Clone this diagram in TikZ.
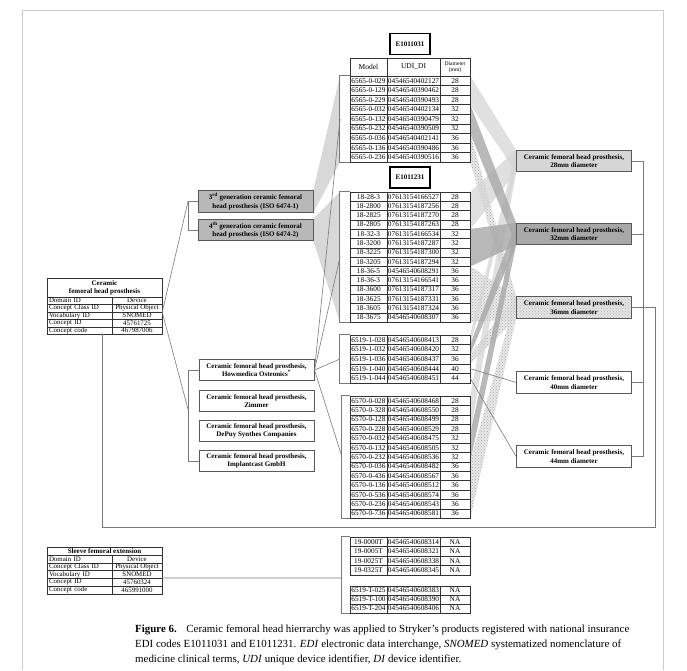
\documentclass[tikz,border=0pt]{standalone}
\usepackage{fontspec}
\setmainfont{Liberation Serif}
\usetikzlibrary{patterns,backgrounds}

\definecolor{framegray}{gray}{0.80}
\definecolor{wiregray}{gray}{0.48}
\definecolor{isofill}{gray}{0.72}
\definecolor{fillA}{gray}{0.84}
\definecolor{fillB}{gray}{0.66}

\newcommand\tabfont{\fontsize{7.3}{7.3}\selectfont}
\newcommand\hdfont{\fontsize{7.5}{8}\selectfont}
\newcommand\boxfont{\fontsize{7}{8.2}\selectfont\bfseries}
\newcommand\keyfont{\fontsize{6.9}{7}\selectfont}

% product table: prefix, top edge, row height, rows model/udi/diameter
\newcommand\prodtable[4]{%
  \foreach \cM/\cU/\cD [count=\i] in {#4} {%
    \pgfmathsetmacro\yc{#2+(\i-0.5)*#3}%
    \node[pcell, minimum width=37pt, minimum height=#3pt] (#1-\i-m) at (368.5,\yc) {\cM};%
    \node[pcell, minimum width=53pt, minimum height=#3pt] (#1-\i-u) at (413.5,\yc) {\cU};%
    \node[pcell, minimum width=30pt, minimum height=#3pt] (#1-\i-d) at (455,\yc) {\cD};%
  }%
}
% concept table: prefix, top edge, row height, rows key/value
\newcommand\concepttable[4]{%
  \foreach \cK/\cV [count=\i] in {#4} {%
    \pgfmathsetmacro\yc{#2+(\i-0.5)*#3}%
    \node[kkey, minimum height=#3pt] (#1-\i-k) at (79.5,\yc) {\cK};%
    \node[kval, minimum height=#3pt] (#1-\i-v) at (137,\yc) {\cV};%
  }%
}
% band from a group of table rows to a diameter box
\newcommand\band[5]{\fill[#1] (#2) -- (#4) -- (#5) -- (#3) -- cycle;}

\begin{document}
\begin{tikzpicture}[x=1pt,y=-1pt,
  pcell/.style={draw=black!80, line width=0.45pt, fill=white, inner sep=0pt, font=\tabfont},
  kkey/.style={draw=black!80, line width=0.45pt, fill=white, inner ysep=0pt, inner xsep=2pt,
               text width=61pt, align=left, font=\keyfont},
  kval/.style={draw=black!80, line width=0.45pt, fill=white, inner sep=0pt,
               minimum width=50pt, font=\keyfont},
  ebox/.style={draw=black, line width=1.3pt, fill=white, minimum width=40pt, minimum height=21pt,
               inner sep=0pt, font=\fontsize{7}{8}\selectfont\bfseries},
  catbox/.style={draw=black!65, line width=0.8pt, minimum width=115pt, minimum height=21.5pt,
               inner sep=0pt, align=center, font=\boxfont},
  wire/.style={draw=wiregray, line width=0.6pt},
  band28/.style={fill=fillA, opacity=0.75},
  band32/.style={fill=fillB, opacity=0.8},
  band36/.style={preaction={fill=gray!22, opacity=0.8}, pattern=crosshatch dots, pattern color=gray!65},
  capfont/.style={font=\fontsize{10.9}{12}\selectfont, inner sep=0pt, anchor=base west}
]
\useasboundingbox (0,0) rectangle (687,670);
\begin{pgfonlayer}{background}
\fill[white] (0,0) rectangle (687,670);
\end{pgfonlayer}
\draw[framegray, line width=0.8pt] (22,670) -- (22,10) -- (663,10) -- (663,670);

% ---------- EDI code boxes ----------
\node[ebox] (e1) at (410,44) {E1011031};
\node[ebox] (e2) at (410,177.5) {E1011231};

% ---------- product tables ----------
\node[pcell, minimum width=37pt, minimum height=18pt, font=\hdfont] (t1-h-m) at (368.5,67) {Model};
\node[pcell, minimum width=53pt, minimum height=18pt, font=\hdfont] (t1-h-u) at (413.5,67) {UDI\_DI};
\node[pcell, minimum width=30pt, minimum height=18pt, font=\fontsize{5.6}{6.3}\selectfont, align=center] (t1-h-d) at (455,67) {Diameter\\(mm)};

\prodtable{t1}{76}{9.55}{6565-0-029/04546540402127/28, 6565-0-129/04546540390462/28,
  6565-0-229/04546540390493/28, 6565-0-032/04546540402134/32, 6565-0-132/04546540390479/32,
  6565-0-232/04546540390509/32, 6565-0-036/04546540402141/36, 6565-0-136/04546540390486/36,
  6565-0-236/04546540390516/36}

\prodtable{t2}{192}{9.29}{18-28-3/07613154166527/28, 18-2800/07613154187256/28,
  18-2825/07613154187270/28, 18-2805/07613154187263/28, 18-32-3/07613154166534/32,
  18-3200/07613154187287/32, 18-3225/07613154187300/32, 18-3205/07613154187294/32,
  18-36-5/04546540608291/36, 18-36-3/07613154166541/36, 18-3600/07613154187317/36,
  18-3625/07613154187331/36, 18-3605/07613154187324/36, 18-3675/04546540608307/36}

\prodtable{t3}{335}{9.6}{6519-1-028/04546540608413/28, 6519-1-032/04546540608420/32,
  6519-1-036/04546540608437/36, 6519-1-040/04546540608444/40, 6519-1-044/04546540608451/44}

\prodtable{t4}{396}{9.4}{6570-0-028/04546540608468/28, 6570-0-328/04546540608550/28,
  6570-0-128/04546540608499/28, 6570-0-228/04546540608529/28, 6570-0-032/04546540608475/32,
  6570-0-132/04546540608505/32, 6570-0-232/04546540608536/32, 6570-0-036/04546540608482/36,
  6570-0-436/04546540608567/36, 6570-0-136/04546540608512/36, 6570-0-536/04546540608574/36,
  6570-0-236/04546540608543/36, 6570-0-736/04546540608581/36}

\prodtable{t5}{537}{9.5}{19-0000T/04546540608314/NA, 19-0005T/04546540608321/NA,
  19-0025T/04546540608338/NA, 19-0325T/04546540608345/NA}

\prodtable{t6}{586}{9.0}{6519-T-025/04546540608383/NA, 6519-T-100/04546540608390/NA,
  6519-T-204/04546540608406/NA}

% brackets on the left of the product tables
\draw[wire] (t1-1-m.north west) -- ++(-10,0) |- (t1-9-m.south west);
\draw[wire] (t2-1-m.north west) -- ++(-10,0) |- (t2-14-m.south west);
\draw[wire] (t3-1-m.north west) -- ++(-10,0) |- (t3-5-m.south west);
\draw[wire] (t4-1-m.north west) -- ++(-8,0) |- (t4-13-m.south west);
\draw[wire] (t5-1-m.north west) -- ++(-8,0) |- (t6-3-m.south west);
\coordinate (b1) at (340,119);
\coordinate (b2) at (340,257);
\coordinate (b3) at (340,359);
\coordinate (b4) at (342,457);
\coordinate (b5) at (342,578);

% ---------- diameter boxes ----------
\node[catbox, fill=fillA] (d28) at (574,161) {Ceramic femoral head prosthesis,\\28mm diameter};
\node[catbox, fill=fillB] (d32) at (574,234) {Ceramic femoral head prosthesis,\\32mm diameter};
\node[catbox, preaction={fill=gray!22}, pattern=crosshatch dots, pattern color=gray!55] (d36) at (574,307.5) {Ceramic femoral head prosthesis,\\36mm diameter};
\node[catbox, fill=white] (d40) at (574,382.5) {Ceramic femoral head prosthesis,\\40mm diameter};
\node[catbox, fill=white] (d44) at (574,456.5) {Ceramic femoral head prosthesis,\\44mm diameter};

% bands from table rows to the diameter boxes
\begin{pgfonlayer}{background}
\band{band36}{t1-7-d.north east}{t1-9-d.south east}{d36.north west}{d36.south west}
\band{band36}{t2-9-d.north east}{t2-14-d.south east}{d36.north west}{d36.south west}
\band{band36}{t3-3-d.north east}{t3-3-d.south east}{d36.north west}{d36.south west}
\band{band36}{t4-8-d.north east}{t4-13-d.south east}{d36.north west}{d36.south west}
\band{band28}{t1-1-d.north east}{t1-3-d.south east}{d28.north west}{d28.south west}
\band{band28}{t2-1-d.north east}{t2-4-d.south east}{d28.north west}{d28.south west}
\band{band28}{t3-1-d.north east}{t3-1-d.south east}{d28.north west}{d28.south west}
\band{band28}{t4-1-d.north east}{t4-4-d.south east}{d28.north west}{d28.south west}
\band{band32}{t1-4-d.north east}{t1-6-d.south east}{d32.north west}{d32.south west}
\band{band32}{t2-5-d.north east}{t2-8-d.south east}{d32.north west}{d32.south west}
\band{band32}{t3-2-d.north east}{t3-2-d.south east}{d32.north west}{d32.south west}
\band{band32}{t4-5-d.north east}{t4-7-d.south east}{d32.north west}{d32.south west}
\end{pgfonlayer}
\draw[wire] (t3-4-d.east) -- (d40.west);
\draw[wire] (t3-5-d.east) -- (d44.west);

% bracket on the right of the diameter boxes
\draw[wire] (d28.east) -- ++(11,0) |- (d44.east);
\draw[wire] (d32.east) -- ++(11,0);
\draw[wire] (d40.east) -- ++(11,0);

% ---------- generation boxes ----------
\node[catbox, fill=isofill] (iso3) at (255.5,201.5) {3\textsuperscript{rd} generation ceramic femoral\\head prosthesis (ISO 6474-1)};
\node[catbox, fill=isofill] (iso4) at (255.5,230) {4\textsuperscript{th} generation ceramic femoral\\head prosthesis (ISO 6474-2)};
\begin{pgfonlayer}{background}
\fill[isofill, opacity=0.55] (iso3.north east) -- (t1-1-m.north west -| b1) -- (t1-9-m.south west -| b1) -- (iso3.south east) -- cycle;
\fill[isofill, opacity=0.55] (iso4.north east) -- (t2-1-m.north west -| b2) -- (t2-14-m.south west -| b2) -- (iso4.south east) -- cycle;
\end{pgfonlayer}

% ---------- manufacturer boxes ----------
\node[catbox, fill=white, line width=1pt] (mf1) at (256.5,370) {Ceramic femoral head prosthesis,\\Howmedica Osteonics\textsuperscript{*}};
\node[catbox, fill=white] (mf2) at (256.5,401) {Ceramic femoral head prosthesis,\\Zimmer};
\node[catbox, fill=white] (mf3) at (256.5,431) {Ceramic femoral head prosthesis,\\DePuy Synthes Companies};
\node[catbox, fill=white] (mf4) at (256.5,461) {Ceramic femoral head prosthesis,\\Implantcast GmbH};

\draw[wire] (mf1.east) -- (b1);
\draw[wire] (mf1.east) -- (b2);
\draw[wire] (mf1.east) -- (b3);
\draw[wire] (mf1.east) -- (b4);

% ---------- concept tables ----------
\node[draw=black!80, line width=0.45pt, fill=white, minimum width=115pt, minimum height=19pt,
      inner sep=0pt, align=center, font=\fontsize{7}{8}\selectfont\bfseries] (cer-h) at (104.5,287.5)
      {Ceramic\\femoral head prosthesis};
\concepttable{cer}{297}{7.45}{Domain ID/Device, Concept Class ID/Physical Object,
  Vocabulary ID/SNOMED, Concept ID/45761725, Concept code/467987006}

\node[draw=black!80, line width=0.45pt, fill=white, minimum width=115pt, minimum height=8pt,
      inner sep=0pt, font=\fontsize{7}{8}\selectfont\bfseries] (slv-h) at (104.5,551)
      {Sleeve femoral extension};
\concepttable{slv}{555}{7.75}{Domain ID/Device, Concept Class ID/Physical Object,
  Vocabulary ID/SNOMED, Concept ID/45760324, Concept code/465991000}

% left connectors
\coordinate (isoJ) at (188,201.5);
\coordinate (mfJ) at (189,413);
\draw[wire] (iso3.west) -- ++(-9.5,0) |- (iso4.west);
\draw[wire] (mf1.west) -- ++(-10,0) |- (mf4.west);
\draw[wire] (cer-2-v.south east) -- (isoJ);
\draw[wire] (cer-2-v.south east) -- (mfJ);

% long connector from the concept table to the 36mm box
\coordinate (cerB) at (102.5,334.25);
\coordinate (loopL) at (102.5,527);
\coordinate (loopR) at (655,527);
\draw[wire] (d36.east) -| (loopR) -- (loopL) -- (cerB);

% sleeve table to its product tables
\draw[wire] (slv-4-v.north east) -- (b5);

% ---------- caption ----------
\node[capfont] (cap1) at (135,632) {\textbf{Figure 6.}\hspace{0.55em} Ceramic femoral head hierrarchy was applied to Stryker’s products registered with national insurance};
\node[capfont] (cap2) at (135,647) {EDI codes E1011031 and E1011231. \textit{EDI} electronic data interchange, \textit{SNOMED} systematized nomenclature of};
\node[capfont] (cap3) at (135,662) {medicine clinical terms, \textit{UDI} unique device identifier, \textit{DI} device identifier.};
\end{tikzpicture}
\end{document}
